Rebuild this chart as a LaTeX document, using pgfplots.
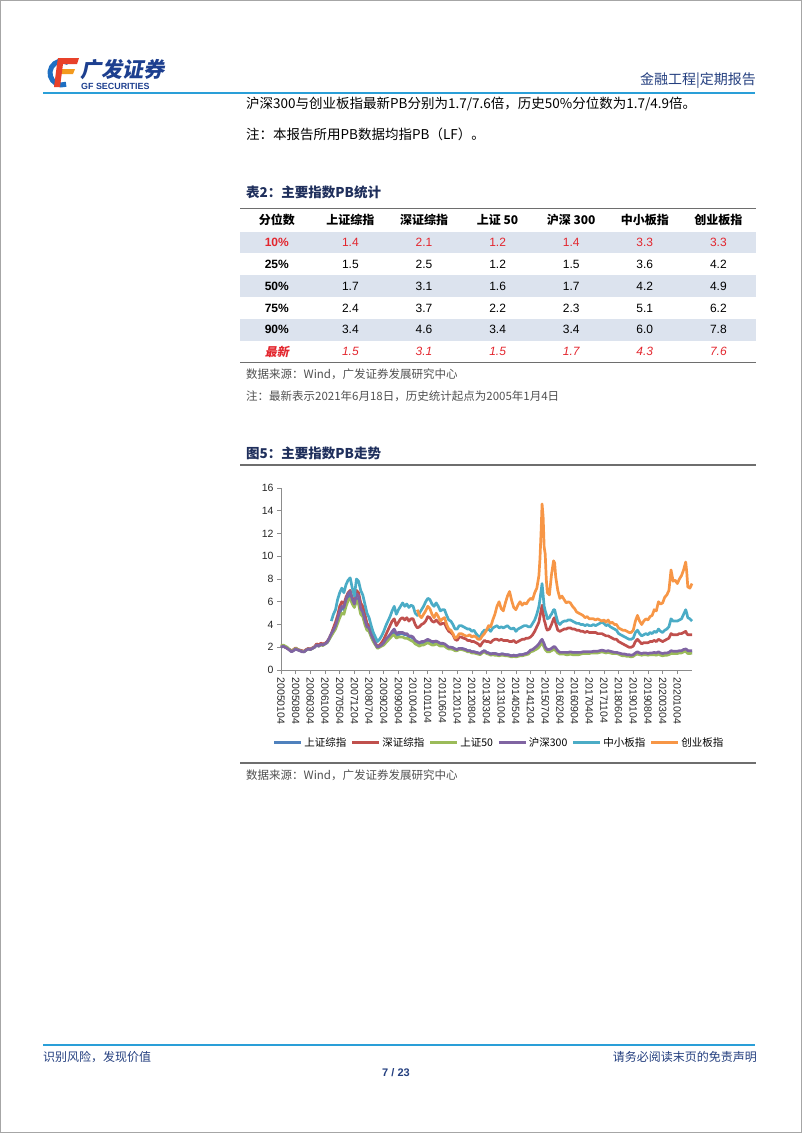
\documentclass[border=0pt]{standalone}
\usepackage{pgfplots}
\pgfplotsset{compat=1.18}
\usepackage{pgfplotstable}
\usepackage{fontspec}
\setmainfont{Liberation Sans}
\newfontfamily\cjk{Noto Sans CJK SC}
\newfontfamily\cjksl[FakeSlant=0.2]{Noto Sans CJK SC}
\definecolor{navy}{HTML}{243F7F}
\definecolor{ttlnavy}{HTML}{1F2F5C}
\definecolor{lineblue}{HTML}{2A9FD8}
\definecolor{tred}{HTML}{E3262E}
\definecolor{rowshade}{HTML}{DCE3EE}
\definecolor{rulegray}{HTML}{6E6E6E}
\definecolor{axisgray}{HTML}{8C8C8C}
\definecolor{srcgray}{HTML}{505050}
\definecolor{cA}{HTML}{4F81BD}
\definecolor{cB}{HTML}{C0504D}
\definecolor{cC}{HTML}{9BBB59}
\definecolor{cD}{HTML}{8064A2}
\definecolor{cE}{HTML}{4BACC6}
\definecolor{cF}{HTML}{F79646}
\definecolor{logoblue}{HTML}{1E6FC2}
\definecolor{logored}{HTML}{E8412A}
\definecolor{logoorange}{HTML}{F39A1E}
\definecolor{logonavy}{HTML}{1D3F8F}

\pgfplotstableread{
m sh sz s50 hs zx cy
0 2.0 2.1 2.1 2.0 nan nan
1 2.1 2.15 2.2 2.1 nan nan
2 2.0 2.0 2.1 2.0 nan nan
3 1.9 1.9 2.0 1.9 nan nan
4 1.8 1.8 1.8 1.75 nan nan
5 1.65 1.7 1.65 1.6 nan nan
6 1.75 1.8 1.75 1.7 nan nan
7 1.9 1.95 1.9 1.85 nan nan
8 1.8 1.8 1.8 1.75 nan nan
9 1.7 1.75 1.7 1.7 nan nan
10 1.65 1.7 1.65 1.6 nan nan
11 1.6 1.65 1.6 1.6 nan nan
12 1.75 1.8 1.75 1.75 nan nan
13 1.85 1.9 1.85 1.85 nan nan
14 1.8 1.85 1.8 1.8 nan nan
15 1.9 1.95 1.9 1.9 nan nan
16 2.0 2.05 2.0 2.0 nan nan
17 2.2 2.3 2.2 2.2 nan nan
18 2.1 2.2 2.1 2.1 nan nan
19 2.25 2.35 2.2 2.25 nan nan
20 2.2 2.3 2.15 2.2 nan nan
21 2.3 2.35 2.3 2.3 nan nan
22 2.4 2.5 2.4 2.45 nan nan
23 2.7 2.8 2.7 2.8 nan nan
24 3.1 3.2 3.0 3.2 4.3 nan
25 3.4 3.7 3.3 3.5 4.9 nan
26 3.8 4.2 3.6 3.9 5.3 nan
27 4.4 4.8 4.1 4.5 6.2 nan
28 5.0 5.6 4.6 5.2 6.8 nan
29 5.5 6.0 5.0 5.6 7.2 nan
30 5.3 5.8 4.9 5.5 6.8 nan
31 5.9 6.4 5.6 6.2 7.5 nan
32 6.4 6.8 6.1 6.7 7.9 nan
33 6.6 7.0 6.3 6.9 8.1 nan
34 6.0 6.3 5.8 6.2 7.2 nan
35 5.6 6.0 5.5 5.8 6.5 nan
36 6.3 7.0 6.1 6.7 8.0 nan
37 6.0 6.8 5.8 6.5 7.8 nan
38 5.1 5.9 4.9 5.4 7.0 nan
39 4.8 5.6 4.7 5.1 6.6 nan
40 4.2 4.9 4.0 4.4 5.8 nan
41 3.6 4.1 3.5 3.8 5.0 nan
42 3.5 3.9 3.4 3.7 4.6 nan
43 3.0 3.3 2.9 3.1 3.9 nan
44 2.6 2.8 2.5 2.7 3.3 nan
45 2.3 2.4 2.2 2.3 2.9 nan
46 2.0 2.0 1.9 2.0 2.5 nan
47 2.1 2.2 2.0 2.1 2.7 nan
48 2.2 2.4 2.1 2.2 3.0 nan
49 2.3 2.7 2.2 2.4 3.4 nan
50 2.5 3.1 2.4 2.7 3.9 nan
51 2.7 3.5 2.6 2.9 4.3 nan
52 2.9 3.9 2.8 3.1 4.7 nan
53 3.2 4.3 3.0 3.4 5.2 nan
54 3.4 4.5 3.1 3.6 5.6 nan
55 3.0 3.9 2.8 3.2 4.9 nan
56 3.1 4.2 2.9 3.3 5.3 nan
57 3.2 4.5 2.9 3.3 5.6 nan
58 3.2 4.6 2.9 3.3 5.9 nan
59 3.1 4.4 2.8 3.2 5.6 nan
60 3.1 4.6 2.8 3.2 5.8 nan
61 2.9 4.3 2.7 3.0 5.5 nan
62 2.9 4.5 2.6 3.0 5.7 nan
63 2.8 4.5 2.5 2.9 5.6 nan
64 2.5 4.0 2.3 2.6 5.0 nan
65 2.4 3.7 2.2 2.5 4.8 5.3
66 2.3 3.8 2.1 2.4 5.0 4.8
67 2.4 4.0 2.2 2.5 5.3 4.6
68 2.4 4.1 2.2 2.5 5.6 4.9
69 2.5 4.3 2.3 2.6 6.0 5.2
70 2.6 4.7 2.4 2.7 6.3 5.6
71 2.5 4.6 2.3 2.6 6.2 5.4
72 2.4 4.3 2.2 2.5 5.8 4.9
73 2.4 4.2 2.2 2.5 5.6 4.6
74 2.5 4.4 2.3 2.55 5.9 5.0
75 2.4 4.2 2.2 2.45 5.6 4.7
76 2.3 4.0 2.1 2.35 5.2 4.3
77 2.3 4.1 2.1 2.35 5.3 4.5
78 2.25 4.1 2.1 2.3 5.3 4.6
79 2.1 3.7 1.95 2.15 4.8 4.0
80 2.0 3.4 1.85 2.0 4.4 3.6
81 2.0 3.3 1.85 2.0 4.3 3.5
82 1.95 3.1 1.8 1.95 4.0 3.2
83 1.85 2.7 1.7 1.85 3.6 2.8
84 1.8 2.6 1.7 1.8 3.6 2.9
85 1.9 2.9 1.8 1.9 3.9 3.2
86 1.9 2.9 1.8 1.9 3.9 3.2
87 1.85 2.8 1.75 1.85 3.8 3.1
88 1.8 2.75 1.7 1.8 3.7 3.0
89 1.7 2.6 1.6 1.7 3.6 3.0
90 1.7 2.6 1.6 1.7 3.6 3.1
91 1.6 2.5 1.5 1.6 3.4 2.9
92 1.6 2.5 1.5 1.6 3.5 3.0
93 1.55 2.4 1.45 1.55 3.2 2.9
94 1.5 2.3 1.4 1.5 3.0 2.7
95 1.45 2.1 1.35 1.45 2.9 2.7
96 1.6 2.4 1.5 1.6 3.3 3.0
97 1.7 2.6 1.6 1.7 3.5 3.2
98 1.55 2.5 1.45 1.55 3.5 3.5
99 1.5 2.5 1.4 1.5 3.6 3.9
100 1.4 2.4 1.3 1.4 3.4 3.8
101 1.45 2.6 1.35 1.45 3.7 4.4
102 1.45 2.7 1.3 1.45 3.8 4.9
103 1.4 2.7 1.3 1.4 3.9 5.6
104 1.35 2.6 1.25 1.35 3.7 6.0
105 1.4 2.7 1.3 1.4 3.8 5.4
106 1.4 2.6 1.3 1.4 3.7 5.2
107 1.35 2.6 1.25 1.35 3.8 5.9
108 1.35 2.6 1.25 1.35 3.9 6.5
109 1.3 2.5 1.2 1.3 3.7 6.9
110 1.25 2.5 1.15 1.25 3.6 6.1
111 1.3 2.6 1.2 1.3 3.7 5.5
112 1.25 2.4 1.15 1.25 3.4 5.3
113 1.3 2.5 1.2 1.3 3.6 5.7
114 1.35 2.6 1.25 1.35 3.7 6.0
115 1.35 2.7 1.25 1.35 3.8 5.7
116 1.4 2.7 1.3 1.4 3.9 5.9
117 1.45 2.8 1.35 1.45 3.9 5.8
118 1.5 2.8 1.4 1.55 3.8 6.1
119 1.7 2.9 1.6 1.75 3.8 6.3
120 1.75 3.1 1.65 1.8 4.1 6.2
121 1.85 3.4 1.75 1.95 4.4 6.8
122 2.0 3.8 1.85 2.1 4.9 7.2
123 2.2 4.2 2.0 2.3 5.6 8.3
123.5 2.35 4.7 2.15 2.45 6.2 9.8
124 2.5 5.2 2.3 2.6 6.9 12.0
124.5 2.6 5.7 2.4 2.7 7.6 14.6
125 2.4 5.0 2.2 2.5 6.6 13.5
125.5 2.2 4.4 2.0 2.3 5.6 10.8
126 2.0 4.1 1.8 2.0 5.2 10.2
126.5 1.8 3.7 1.7 1.9 4.9 8.0
127 1.7 3.5 1.6 1.8 4.5 6.8
128 1.75 3.6 1.6 1.8 4.6 6.6
128.5 1.8 3.8 1.65 1.85 4.8 7.5
129 1.85 4.0 1.7 1.9 4.9 8.4
130 1.95 4.5 1.8 2.05 5.3 9.6
130.5 1.95 4.6 1.8 2.05 5.3 9.4
131 1.85 4.1 1.7 1.95 4.9 8.2
132 1.6 3.5 1.5 1.7 4.2 7.0
133 1.5 3.4 1.4 1.55 4.0 6.3
134 1.5 3.5 1.4 1.55 4.2 6.5
135 1.5 3.6 1.4 1.55 4.3 6.2
136 1.5 3.6 1.35 1.55 4.3 5.9
137 1.5 3.7 1.35 1.55 4.4 6.0
138 1.55 3.7 1.4 1.6 4.4 5.9
139 1.5 3.6 1.35 1.55 4.3 5.6
140 1.5 3.6 1.35 1.55 4.2 5.4
141 1.5 3.5 1.35 1.55 4.1 5.1
142 1.5 3.5 1.35 1.55 4.1 5.0
143 1.5 3.4 1.4 1.55 4.0 4.9
144 1.55 3.4 1.45 1.6 4.0 4.8
145 1.55 3.3 1.45 1.6 3.9 4.6
146 1.55 3.4 1.45 1.6 4.0 4.7
147 1.55 3.3 1.45 1.6 3.9 4.5
148 1.55 3.3 1.5 1.6 3.9 4.5
149 1.6 3.3 1.5 1.65 4.0 4.5
150 1.6 3.3 1.5 1.65 3.9 4.4
151 1.6 3.2 1.5 1.65 4.0 4.5
152 1.65 3.2 1.55 1.7 4.1 4.4
153 1.7 3.2 1.6 1.75 4.2 4.3
154 1.65 3.1 1.55 1.7 4.1 4.4
155 1.6 3.0 1.5 1.65 3.9 4.2
156 1.65 3.0 1.55 1.7 4.0 4.4
157 1.6 2.9 1.5 1.65 3.8 4.1
158 1.55 2.8 1.45 1.6 3.7 4.2
159 1.5 2.7 1.45 1.55 3.6 4.0
160 1.5 2.7 1.45 1.55 3.5 4.0
161 1.45 2.5 1.4 1.5 3.2 3.7
162 1.4 2.4 1.3 1.45 3.1 3.6
163 1.35 2.3 1.25 1.4 3.0 3.5
164 1.35 2.2 1.25 1.4 2.9 3.5
165 1.3 2.1 1.2 1.35 2.8 3.4
166 1.3 2.0 1.2 1.35 2.7 3.3
167 1.25 2.0 1.15 1.3 2.7 3.3
168 1.3 2.1 1.2 1.35 2.8 3.5
169 1.45 2.5 1.35 1.5 3.3 4.3
170 1.5 2.7 1.4 1.6 3.5 4.8
171 1.45 2.5 1.35 1.5 3.2 4.3
172 1.4 2.3 1.3 1.45 3.0 4.0
173 1.45 2.4 1.35 1.5 3.1 4.3
174 1.45 2.4 1.35 1.5 3.2 4.5
175 1.4 2.4 1.3 1.45 3.1 4.4
176 1.45 2.5 1.35 1.5 3.3 4.7
177 1.45 2.5 1.35 1.5 3.2 4.8
178 1.45 2.6 1.35 1.55 3.4 5.3
179 1.4 2.5 1.3 1.5 3.3 5.2
180 1.5 2.7 1.4 1.6 3.6 6.0
181 1.4 2.6 1.3 1.5 3.4 5.8
182 1.35 2.5 1.25 1.45 3.3 5.9
183 1.4 2.6 1.3 1.5 3.5 6.4
184 1.4 2.7 1.3 1.5 3.6 6.6
185 1.45 2.8 1.35 1.55 3.8 7.0
186 1.55 3.2 1.45 1.7 4.5 8.8
187 1.55 3.1 1.45 1.65 4.3 7.8
188 1.5 3.1 1.45 1.65 4.3 7.9
189 1.5 3.1 1.45 1.65 4.3 7.6
190 1.55 3.2 1.5 1.7 4.4 8.0
191 1.55 3.2 1.5 1.7 4.5 8.3
192 1.65 3.3 1.6 1.8 4.9 8.8
193 1.7 3.4 1.65 1.85 5.3 9.5
193.5 1.65 3.2 1.55 1.8 5.0 8.6
194 1.55 3.1 1.45 1.7 4.6 7.3
195 1.55 3.1 1.45 1.7 4.5 7.2
196 1.5 3.1 1.5 1.7 4.3 7.6
}\pbdata

\newcommand{\trow}[9]{%
\node[text=#2] at (276.8pt,-#1pt) {#3};
\foreach \xx/\vv in {350.4/{#4},424/{#5},497.6/{#6},571.2/{#7},644.8/{#8},718.4/{#9}}
  \node[text=#2] at (\xx pt,-#1pt) {\vv};}

\begin{document}
\begin{tikzpicture}
\useasboundingbox (0pt,0pt) rectangle (802pt,-1133pt);
\draw[gray!70, line width=1pt] (0.5pt,-0.5pt) rectangle (801.5pt,-1132.5pt);

% ---- logo ----
\draw[logoblue, line width=5pt] (68pt,-62.6pt) arc[start angle=60, end angle=290, radius=12pt];
\fill[logored] (58pt,-58pt) -- (79pt,-58pt) -- (77pt,-64pt) -- (57pt,-64pt) -- cycle;
\fill[logoorange] (61pt,-69pt) -- (75pt,-69pt) -- (73pt,-74pt) -- (60pt,-74pt) -- cycle;
\fill[logored] (57pt,-64pt) -- (63pt,-64pt) -- (60pt,-87pt) -- (54pt,-87pt) -- cycle;
\node[anchor=west, inner sep=0, text=logonavy, font=\cjksl\bfseries\fontsize{21}{23}\selectfont] at (80pt,-70pt) {广发证券};
\node[anchor=west, inner sep=0, text=logonavy, font=\bfseries\fontsize{8.9}{10}\selectfont] at (81pt,-86.5pt) {GF SECURITIES};
\node[anchor=east, inner sep=0, text=navy, font=\cjk\fontsize{14}{16}\selectfont] at (756pt,-81pt) {金融工程|定期报告};
\draw[lineblue, line width=2pt] (43pt,-93pt) -- (755pt,-93pt);

% ---- body text ----
\node[anchor=west, inner sep=0, font=\cjk\fontsize{13.5}{16}\selectfont] at (246pt,-104pt) {沪深300与创业板指最新PB分别为1.7/7.6倍，历史50\%分位数为1.7/4.9倍。};
\node[anchor=west, inner sep=0, font=\cjk\fontsize{13.5}{16}\selectfont] at (246pt,-134pt) {注：本报告所用PB数据均指PB（LF）。};

% ---- table ----
\node[anchor=west, inner sep=0, text=ttlnavy, font=\cjk\bfseries\fontsize{13.5}{16}\selectfont] at (246pt,-192pt) {表2：主要指数PB统计};
\fill[rowshade] (240pt,-231.5pt) rectangle (756pt,-253pt);
\fill[rowshade] (240pt,-275pt) rectangle (756pt,-297pt);
\fill[rowshade] (240pt,-318.5pt) rectangle (756pt,-340.5pt);
\draw[rulegray, line width=1.6pt] (240pt,-208.5pt) -- (756pt,-208.5pt);
\draw[rulegray, line width=1.6pt] (240pt,-362.5pt) -- (756pt,-362.5pt);
\begin{scope}[every node/.style={inner sep=0, font=\fontsize{12}{14}\selectfont}]
\trow{220}{black}{\cjk\bfseries 分位数}{\cjk\bfseries 上证综指}{\cjk\bfseries 深证综指}{\cjk\bfseries 上证 50}{\cjk\bfseries 沪深 300}{\cjk\bfseries 中小板指}{\cjk\bfseries 创业板指}
\trow{242}{tred}{\bfseries 10\%}{1.4}{2.1}{1.2}{1.4}{3.3}{3.3}
\trow{264}{black}{\bfseries 25\%}{1.5}{2.5}{1.2}{1.5}{3.6}{4.2}
\trow{286}{black}{\bfseries 50\%}{1.7}{3.1}{1.6}{1.7}{4.2}{4.9}
\trow{308}{black}{\bfseries 75\%}{2.4}{3.7}{2.2}{2.3}{5.1}{6.2}
\trow{329.5}{black}{\bfseries 90\%}{3.4}{4.6}{3.4}{3.4}{6.0}{7.8}
\trow{351.5}{tred}{\cjksl\bfseries 最新}{\itshape 1.5}{\itshape 3.1}{\itshape 1.5}{\itshape 1.7}{\itshape 4.3}{\itshape 7.6}
\end{scope}
\node[anchor=west, inner sep=0, text=srcgray, font=\cjk\fontsize{11.5}{14}\selectfont] at (246pt,-374pt) {数据来源：Wind，广发证券发展研究中心};
\node[anchor=west, inner sep=0, text=srcgray, font=\cjk\fontsize{11.5}{14}\selectfont] at (246pt,-396pt) {注：最新表示2021年6月18日，历史统计起点为2005年1月4日};

% ---- figure ----
\node[anchor=west, inner sep=0, text=ttlnavy, font=\cjk\bfseries\fontsize{13.5}{16}\selectfont] at (246pt,-453pt) {图5：主要指数PB走势};
\draw[rulegray, line width=1.2pt] (240pt,-465pt) -- (756pt,-465pt);

\begin{axis}[
  at={(281pt,-670pt)}, anchor=south west,
  scale only axis, width=411pt, height=182pt,
  xmin=0, xmax=196, ymin=0, ymax=16,
  axis lines=left,
  axis line style={-, draw=axisgray, line width=0.8pt},
  tick style={draw=axisgray, line width=0.6pt},
  tick align=outside, major tick length=4pt,
  ytick={0,2,...,16},
  xtick={0,7,...,189},
  xticklabels={20050104,20050804,20060304,20061004,20070504,20071204,20080704,20090204,20090904,20100404,20101104,20110604,20120104,20120804,20130304,20131004,20140504,20141204,20150704,20160204,20160904,20170404,20171104,20180604,20190104,20190804,20200304,20201004},
  xticklabel style={rotate=-90, anchor=west, font=\fontsize{10.5}{12}\selectfont, text=black!85},
  yticklabel style={font=\fontsize{10.5}{12}\selectfont, text=black!85},
  /pgf/number format/assume math mode=true,
  unbounded coords=jump,
  clip=false,
  legend columns=6,
  legend style={at={(0.53,-0.401)}, anchor=center, draw=none, fill=none,
    font=\cjk\fontsize{10.5}{12}\selectfont,
    /tikz/every even column/.append style={column sep=3pt},
    nodes={inner sep=1.5pt}},
  legend image code/.code={\draw[#1, line width=3pt] (0pt,0pt) -- (27pt,0pt);},
  every axis plot/.append style={line join=round},
]
\addplot[no marks, color=cA, line width=2.7pt] table[x=m, y=sh] {\pbdata};
\addlegendentry{上证综指}
\addplot[no marks, color=cB, line width=2.7pt] table[x=m, y=sz] {\pbdata};
\addlegendentry{深证综指}
\addplot[no marks, color=cC, line width=2.7pt] table[x=m, y=s50] {\pbdata};
\addlegendentry{上证50}
\addplot[no marks, color=cD, line width=2.7pt] table[x=m, y=hs] {\pbdata};
\addlegendentry{沪深300}
\addplot[no marks, color=cE, line width=2.7pt] table[x=m, y=zx] {\pbdata};
\addlegendentry{中小板指}
\addplot[no marks, color=cF, line width=2.7pt] table[x=m, y=cy] {\pbdata};
\addlegendentry{创业板指}
\end{axis}

\draw[rulegray, line width=1.2pt] (240pt,-763pt) -- (756pt,-763pt);
\node[anchor=west, inner sep=0, text=srcgray, font=\cjk\fontsize{11.5}{14}\selectfont] at (246pt,-775pt) {数据来源：Wind，广发证券发展研究中心};

% ---- footer ----
\draw[lineblue, line width=2pt] (43pt,-1045pt) -- (755pt,-1045pt);
\node[anchor=west, inner sep=0, text=navy, font=\cjk\fontsize{12}{14}\selectfont] at (43pt,-1057pt) {识别风险，发现价值};
\node[anchor=east, inner sep=0, text=navy, font=\cjk\fontsize{12}{14}\selectfont] at (757pt,-1057pt) {请务必阅读末页的免责声明};
\node[inner sep=0, text=navy, font=\bfseries\fontsize{11}{13}\selectfont] at (396pt,-1073pt) {7 / 23};
\end{tikzpicture}
\end{document}
